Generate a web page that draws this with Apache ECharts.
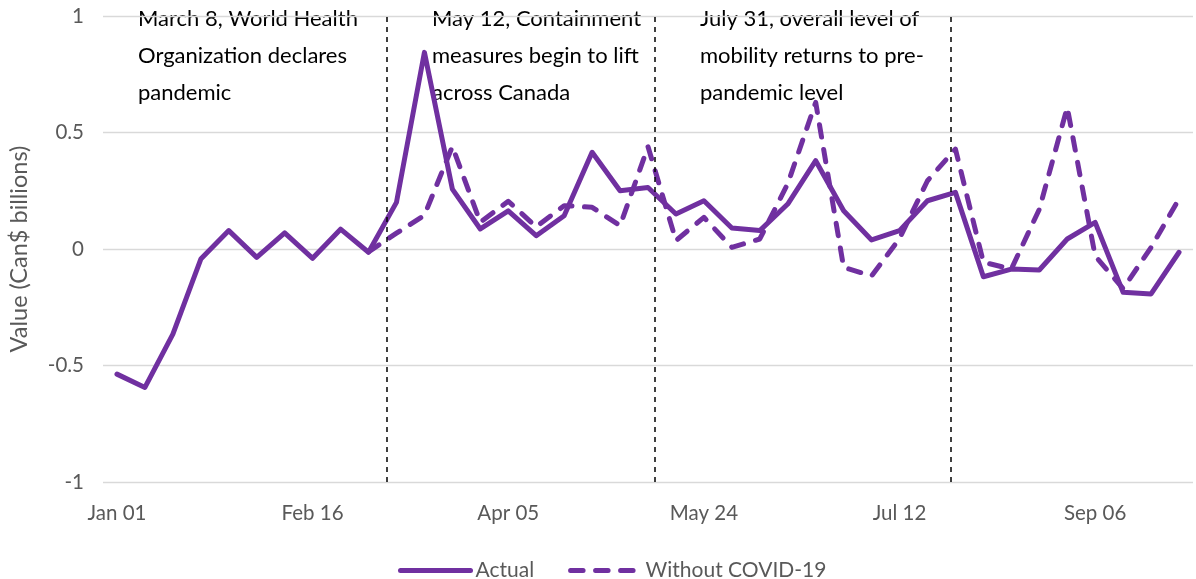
<!DOCTYPE html>
<html>
<head>
<meta charset="utf-8">
<script src="https://cdn.jsdelivr.net/npm/echarts@6/dist/echarts.min.js"></script>
<style>
  html, body { margin: 0; padding: 0; background: #ffffff; }
  #chart { width: 1196px; height: 579px; }
</style>
</head>
<body>
<div id="chart"></div>
<script>
// weekly points, Jan 01 to end of Sep
const weeks = [0,1,2,3,4,5,6,7,8,9,10,11,12,13,14,15,16,17,18,19,20,21,22,23,24,25,26,27,28,29,30,31,32,33,34,35,36,37,38];
const tickWeeks = [0, 7, 14, 21, 28, 35];
const tickLabels = ['Jan 01', 'Feb 16', 'Apr 05', 'May 24', 'Jul 12', 'Sep 06'];

const actual = [
  -0.537, -0.594, -0.365, -0.043, 0.079, -0.036, 0.069, -0.040, 0.085, -0.014,
  0.200, 0.844, 0.257, 0.086, 0.164, 0.057, 0.143, 0.415, 0.250, 0.264,
  0.150, 0.207, 0.090, 0.079, 0.193, 0.379, 0.164, 0.039, 0.079, 0.207,
  0.243, -0.119, -0.086, -0.090, 0.043, 0.114, -0.186, -0.193, -0.014
];
const withoutCovid = [
  null, null, null, null, null, null, null, null, null, -0.012,
  0.068, 0.145, 0.440, 0.115, 0.205, 0.095, 0.186, 0.179, 0.100, 0.439,
  0.036, 0.136, 0.007, 0.043, 0.280, 0.629, -0.079, -0.115, 0.045, 0.293,
  0.429, -0.057, -0.086, 0.170, 0.608, -0.030, -0.170, 0.007, 0.215
];

// event dates, in weeks from Jan 01
const eventWeeks = [9.65, 19.25, 29.82];
const eventNotes = [
  'March 8, World Health\nOrganization declares\npandemic',
  'May 12, Containment\nmeasures begin to lift\nacross Canada',
  'July 31, overall level of\nmobility returns to pre-\npandemic level'
];
const notePos = [138, 432, 700];

const purple = '#7030A0';
const grey = '#595959';
const font = 'Lato, "Open Sans", sans-serif';

const chart = echarts.init(document.getElementById('chart'));

const option = {
  animation: false,
  textStyle: { fontFamily: font },
  grid: { left: 103, right: 3, top: 16, bottom: 97, outerBoundsMode: 'none' },
  legend: {
    top: 555,
    left: 393,
    itemWidth: 70,
    itemHeight: 14,
    itemGap: 34,
    itemStyle: { opacity: 0 },
    lineStyle: { width: 5, cap: 'round' },
    textStyle: { color: grey, fontSize: 21, fontFamily: font },
    data: ['Actual', 'Without COVID-19']
  },
  xAxis: {
    type: 'value',
    min: -0.5,
    max: 38.5,
    axisLine: { show: false },
    axisTick: { show: false },
    splitLine: { show: false },
    axisLabel: {
      customValues: tickWeeks,
      margin: 21,
      color: grey,
      fontSize: 20.5,
      formatter: function (v) {
        return tickLabels[tickWeeks.indexOf(v)] || '';
      }
    }
  },
  yAxis: {
    type: 'value',
    min: -1,
    max: 1,
    interval: 0.5,
    name: 'Value (Can$ billions)',
    nameLocation: 'middle',
    nameGap: 72,
    nameTextStyle: { color: grey, fontSize: 23.5 },
    axisLine: { show: false },
    axisTick: { show: false },
    splitLine: { lineStyle: { color: '#d9d9d9', width: 1.3 } },
    axisLabel: { color: grey, fontSize: 20.5, margin: 19 }
  },
  series: [
    {
      name: 'Actual',
      type: 'line',
      symbol: 'none',
      data: weeks.map((w, i) => [w, actual[i]]),
      lineStyle: { color: purple, width: 5, join: 'round', cap: 'round' },
      itemStyle: { color: purple },
      markLine: {
        silent: true,
        symbol: 'none',
        label: { show: false },
        lineStyle: { color: '#000000', type: [5, 5], width: 1.5 },
        data: eventWeeks.map(w => ({ xAxis: w }))
      },
      z: 2
    },
    {
      name: 'Without COVID-19',
      type: 'line',
      symbol: 'none',
      data: weeks.map((w, i) => [w, withoutCovid[i]]),
      lineStyle: { color: purple, width: 5, type: [12.5, 12.5], cap: 'round', join: 'round' },
      itemStyle: { color: purple },
      z: 3
    }
  ],
  graphic: eventNotes.map((t, i) => ({
    type: 'text',
    left: notePos[i],
    top: 0,
    style: {
      text: t,
      fill: '#000000',
      font: '22px ' + font,
      lineHeight: 37
    }
  }))
};

chart.setOption(option);
</script>
</body>
</html>
